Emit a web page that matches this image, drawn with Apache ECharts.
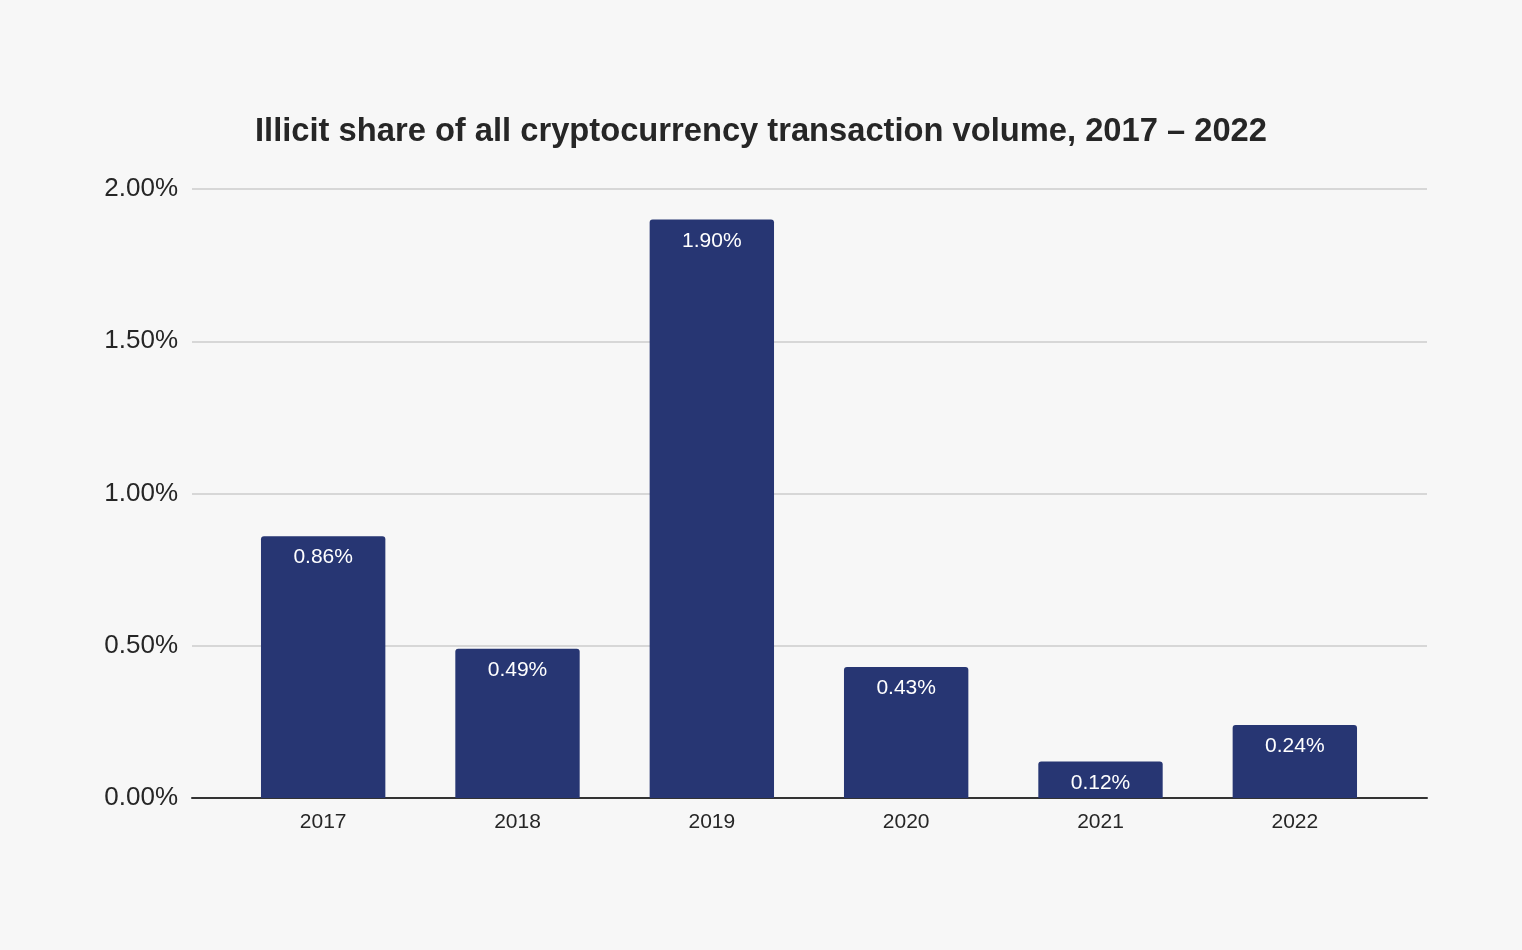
<!DOCTYPE html>
<html><head><meta charset="utf-8">
<script src="https://cdn.jsdelivr.net/npm/echarts@6/dist/echarts.min.js"></script>
<style>html,body{margin:0;padding:0;background:#f7f7f7}#c{width:1522px;height:950px}</style>
</head><body><div id="c"></div>
<script>
const titleText = "Illicit share of all cryptocurrency transaction volume, 2017 – 2022";
const years = ["2017", "2018", "2019", "2020", "2021", "2022"];
const illicitShare = [0.86, 0.49, 1.90, 0.43, 0.12, 0.24];
const yTicks = { min: 0, max: 2, interval: 0.5 };

const font = 'Liberation Sans, Arial, sans-serif';
const chart = echarts.init(document.getElementById('c'), null, {renderer: 'canvas'});
chart.setOption({
  backgroundColor: '#f7f7f7',
  animation: false,
  title: {
    text: titleText, left: 'center', top: 110,
    textStyle: {fontFamily: font, fontSize: 32.7, fontWeight: 'bold', color: '#262626'}
  },
  grid: [
    {left: 226, right: 130, top: 189, bottom: 152, containLabel: false},
    {left: 192, right: 95, top: 189, bottom: 152, containLabel: false}
  ],
  xAxis: [{
    type: 'category', data: years, gridIndex: 0,
    axisLine: {show: false},
    axisTick: {show: false},
    axisLabel: {fontFamily: font, fontSize: 21, color: '#262626', margin: 14}
  }, {
    type: 'value', gridIndex: 1, min: 0, max: 1,
    axisLine: {show: true, onZero: false, lineStyle: {color: '#333', width: 2}},
    axisTick: {show: false}, axisLabel: {show: false}, splitLine: {show: false}
  }],
  yAxis: [{
    type: 'value', gridIndex: 0, min: yTicks.min, max: yTicks.max, interval: yTicks.interval,
    show: false, splitLine: {show: false}
  }, {
    type: 'value', gridIndex: 1, min: yTicks.min, max: yTicks.max, interval: yTicks.interval,
    axisLine: {show: false}, axisTick: {show: false},
    splitLine: {lineStyle: {color: '#cccccc', width: 1.5}},
    axisLabel: {fontFamily: font, fontSize: 26, color: '#262626', margin: 14, padding: [4, 0, 0, 0],
      formatter: v => v.toFixed(2) + '%'}
  }],
  series: [{
    type: 'bar', data: illicitShare, barWidth: '64%', xAxisIndex: 0, yAxisIndex: 0, z: 3,
    itemStyle: {color: '#273673', borderRadius: [3, 3, 0, 0]},
    label: {show: true, position: 'insideTop', distance: 11, color: '#ffffff',
      fontFamily: font, fontSize: 21,
      formatter: p => p.value.toFixed(2) + '%'}
  }]
});
</script></body></html>
